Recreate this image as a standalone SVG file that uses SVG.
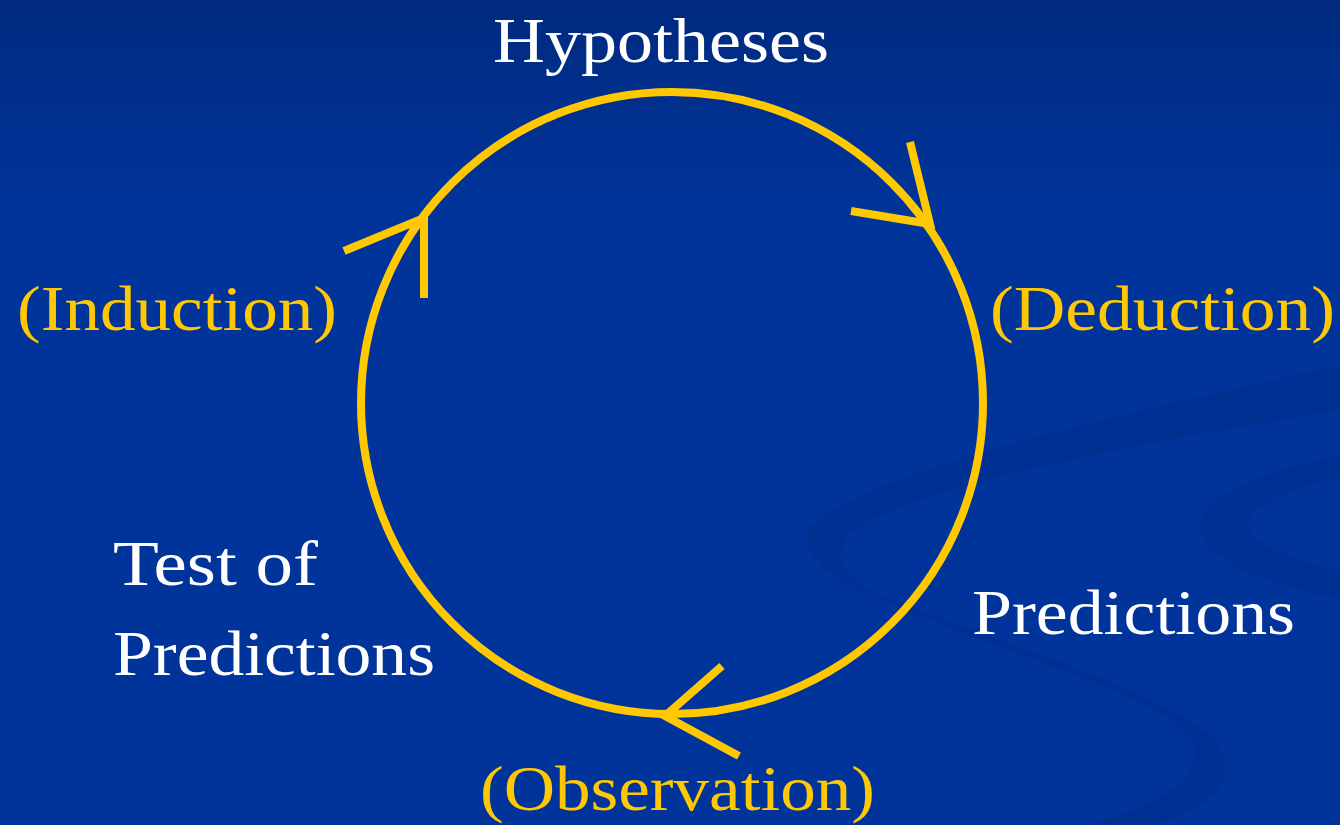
<svg xmlns="http://www.w3.org/2000/svg" width="1340" height="825" viewBox="0 0 1340 825">
<defs>
<linearGradient id="bg" x1="0" y1="0" x2="0" y2="1">
<stop offset="0" stop-color="#002a80"/>
<stop offset="0.25" stop-color="#00349a"/>
<stop offset="1" stop-color="#00349a"/>
</linearGradient>
<style>
.ring{fill:none;stroke:#ffc800;stroke-width:8}
.head{fill:none;stroke:#ffc800;stroke-width:8;stroke-linecap:butt}
.w{fill:#ffffff;font-family:"Liberation Serif",serif;font-size:64px}
.y{fill:#ffc800;font-family:"Liberation Serif",serif;font-size:64px}
.swirl{fill:#002f8c;opacity:0.55}
</style>
</defs>
<rect width="1340" height="825" fill="url(#bg)"/>
<g id="background-swirl">
<path class="swirl" d="M810,527 C880,470 1050,430 1340,365 L1340,410 C1100,450 960,480 870,520 C830,540 835,570 860,585 C950,630 1150,680 1215,740 C1245,780 1210,810 1150,825 L1090,825 C1170,800 1210,775 1190,735 C1150,690 960,640 850,585 C810,565 800,540 810,527 Z"/>
<path class="swirl" d="M1340,455 C1270,470 1215,490 1200,520 C1195,550 1240,575 1300,590 L1340,600 L1340,570 C1290,560 1240,540 1250,520 C1260,500 1300,485 1340,478 Z"/>
</g>
<g id="connectors">
<circle class="ring" cx="672" cy="403" r="311"/>
<polyline class="head" points="910,142 930,224 851,211"/>
<polyline class="head" points="344,251 424,218 424,298"/>
<polyline class="head" points="722,666 665,716 739,756"/>
</g>
<g id="hypotheses"><text class="w" x="493" y="62" textLength="336" lengthAdjust="spacingAndGlyphs">Hypotheses</text></g>
<g id="induction"><text class="y" x="17" y="330" textLength="320" lengthAdjust="spacingAndGlyphs">(Induction)</text></g>
<g id="deduction"><text class="y" x="990" y="330" textLength="345" lengthAdjust="spacingAndGlyphs">(Deduction)</text></g>
<g id="predictions"><text class="w" x="972" y="634" textLength="323" lengthAdjust="spacingAndGlyphs">Predictions</text></g>
<g id="test-of-predictions">
<text class="w" x="113" y="585" textLength="205" lengthAdjust="spacingAndGlyphs">Test of</text>
<text class="w" x="113" y="675" textLength="322" lengthAdjust="spacingAndGlyphs">Predictions</text>
</g>
<g id="observation"><text class="y" x="480" y="810" textLength="395" lengthAdjust="spacingAndGlyphs">(Observation)</text></g>
</svg>
